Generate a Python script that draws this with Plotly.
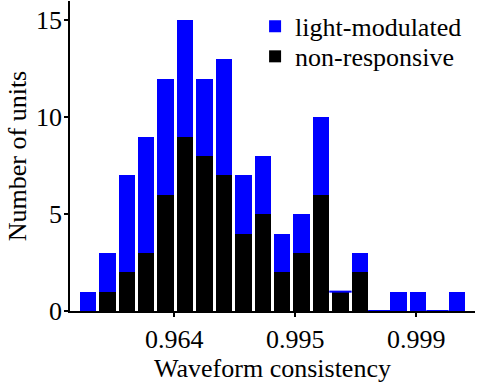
import numpy as np
import plotly.graph_objects as go

# Histogram bins in Fisher-z space (atanh of waveform consistency)
bin_centers = [1.286, 1.447, 1.607, 1.768, 1.928, 2.089, 2.249, 2.410, 2.570, 2.731,
               2.891, 3.052, 3.212, 3.373, 3.533, 3.694, 3.854, 4.015, 4.175, 4.336]

# Unit counts per bin (stacked: non-responsive at the bottom)
non_responsive = [0, 1, 2, 3, 6, 9, 8, 7, 4, 5, 2, 3, 6, 1, 2, 0, 0, 0, 0, 0]
light_modulated = [1, 2, 5, 6, 6, 6, 4, 6, 3, 3, 2, 2, 4, 0, 1, 0, 1, 1, 0, 1]

# Axis ticks placed at round Fisher-z values, labelled in consistency units
tick_z = [2, 3, 4]
tick_text = [f"{np.tanh(z):.3f}" for z in tick_z]

FONT = "Liberation Serif, Times New Roman, serif"
BLUE = "#0000ff"
SIZE = 26
LEG_SIZE = 26

fig = go.Figure()
fig.add_trace(go.Bar(
    x=bin_centers, y=non_responsive, name="non-responsive", legend="legend2",
    marker=dict(color="black", line=dict(width=0)),
))
fig.add_trace(go.Bar(
    x=bin_centers, y=light_modulated, name="light-modulated", legend="legend",
    marker=dict(color=BLUE, line=dict(width=0)),
))

# Thin blue edge where the light-modulated segment is empty
tops = [n + l for n, l in zip(non_responsive, light_modulated)]
zx = [x for x, l in zip(bin_centers, light_modulated) if l == 0]
zy = [t for t, l in zip(tops, light_modulated) if l == 0]
fig.add_trace(go.Scatter(
    x=zx, y=zy, mode="markers", showlegend=False, hoverinfo="skip",
    marker=dict(symbol="line-ew", size=16, line=dict(width=2, color=BLUE)),
    cliponaxis=False,
))

legend_style = dict(
    x=0.457, xanchor="left", yanchor="top",
    bgcolor="rgba(0,0,0,0)", borderwidth=0,
    font=dict(family=FONT, size=LEG_SIZE, color="black"),
)

fig.update_layout(
    width=486, height=383,
    margin=dict(l=70, r=11, t=1, b=72),
    barmode="stack", bargap=0.15,
    plot_bgcolor="white", paper_bgcolor="white",
    font=dict(family=FONT, size=SIZE, color="black"),
    showlegend=True,
    legend=dict(y=0.994, **legend_style),
    legend2=dict(y=0.897, **legend_style),
)
fig.update_xaxes(
    range=[1.138, 4.485], tickvals=tick_z, ticktext=tick_text,
    showline=True, linecolor="black", linewidth=1.5,
    ticks="outside", ticklen=4, tickwidth=1.5, tickcolor="black",
    showgrid=False, zeroline=False,
    title=dict(text="Waveform consistency", standoff=4,
               font=dict(family=FONT, size=SIZE, color="black")),
    tickfont=dict(family=FONT, size=SIZE, color="black"),
)
fig.update_yaxes(
    range=[0, 16], tickvals=[0, 5, 10, 15],
    showline=True, linecolor="black", linewidth=1.5,
    ticks="outside", ticklen=4, tickwidth=1.5, tickcolor="black",
    ticklabelstandoff=-3,
    showgrid=False, zeroline=False,
    title=dict(text="Number of units", standoff=2,
               font=dict(family=FONT, size=SIZE, color="black")),
    tickfont=dict(family=FONT, size=SIZE, color="black"),
)

fig.write_html("out.html")
